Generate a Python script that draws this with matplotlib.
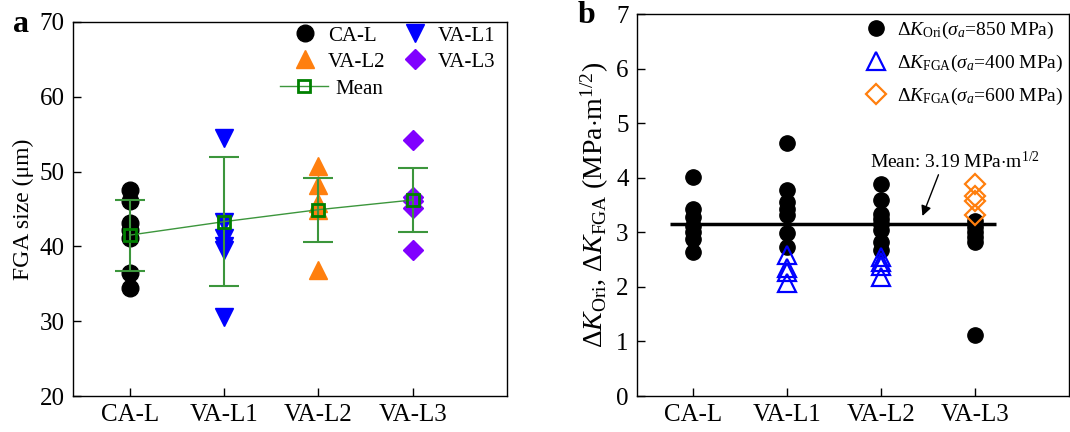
import numpy as np
import matplotlib
matplotlib.use('Agg')
import matplotlib.pyplot as plt

plt.rcParams['font.family'] = ['Liberation Serif', 'DejaVu Serif']
plt.rcParams['mathtext.fontset'] = 'custom'
plt.rcParams['mathtext.rm'] = 'Liberation Serif'
plt.rcParams['mathtext.it'] = 'Liberation Serif:italic'
plt.rcParams['mathtext.bf'] = 'Liberation Serif:bold'

cats = ['CA-L', 'VA-L1', 'VA-L2', 'VA-L3']

# panel a: FGA size (um)
fga_cal = [47.5, 46.0, 43.1, 42.2, 41.1, 36.4, 34.4]
fga_val1 = [54.5, 43.3, 41.1, 40.0, 39.5, 30.6]
fga_val2 = [50.7, 48.2, 45.8, 44.9, 36.8]
fga_val3 = [54.2, 46.6, 46.0, 45.1, 39.5]
fga_mean = [41.5, 43.3, 44.9, 46.2]
fga_sd = [4.75, 8.65, 4.3, 4.3]

# panel b: delta K (MPa m^1/2)
kori_cal = [4.02, 3.42, 3.28, 3.12, 3.00, 2.88, 2.64]
kori_val1 = [4.63, 3.77, 3.56, 3.42, 3.32, 2.99, 2.74]
kori_val2 = [3.89, 3.59, 3.33, 3.25, 3.15, 3.05, 2.83, 2.68]
kori_val3 = [3.20, 3.10, 3.00, 2.92, 2.83, 1.12]
kfga400_val1 = [2.58, 2.35, 2.28, 2.07]
kfga400_val2 = [2.55, 2.45, 2.38, 2.19]
kfga600_val3 = [3.88, 3.66, 3.58, 3.32]
k_mean_line = 3.16

pos = np.arange(1, 5)
green = '#008000'
green2 = '#3c963c'
orange = '#ff7f0e'

fig = plt.figure(figsize=(10.7, 4.32), dpi=100)
ax1 = fig.add_axes([0.0682, 0.0833, 0.4056, 0.866])
ax2 = fig.add_axes([0.5953, 0.0833, 0.4037, 0.884])

# ---- a ----
ax1.plot([pos[0]]*len(fga_cal), fga_cal, 'o', color='black', ms=12, label='CA-L', zorder=2)
ax1.plot([pos[1]]*len(fga_val1), fga_val1, 'v', color='blue', ms=13, label='VA-L1', zorder=2)
ax1.plot([pos[2]]*len(fga_val2), fga_val2, '^', color=orange, ms=13, label='VA-L2', zorder=2)
ax1.plot([pos[3]]*len(fga_val3), fga_val3, 'D', color='#8000ff', ms=10, label='VA-L3', zorder=2)
ax1.errorbar(pos, fga_mean, yerr=fga_sd, fmt='none', ecolor=green2, elinewidth=1.5,
             capsize=11, capthick=1.5, zorder=3)
mean_ln, = ax1.plot(pos, fga_mean, '-s', color=green2, lw=1, ms=9, mfc='none', mec=green,
                    mew=2, label='Mean', zorder=4)
ax1.set_xlim(0.4, 5.0)
ax1.set_ylim(20, 70)
ax1.set_xticks(pos)
ax1.set_xticklabels(cats)
ax1.set_yticks([20, 30, 40, 50, 60, 70])
ax1.set_ylabel('FGA size (μm)', fontsize=17, labelpad=4)
ax1.tick_params(direction='in', length=6, width=1, labelsize=18, pad=6)
h, l = ax1.get_legend_handles_labels()
order = [0, 2, 1, 3]
leg1 = ax1.legend([h[i] for i in order], [l[i] for i in order], ncol=2, frameon=False,
                  loc='center left', bbox_to_anchor=(0.511, 0.928), fontsize=15,
                  handletextpad=0.6, columnspacing=0.9, labelspacing=0.3,
                  borderaxespad=0, borderpad=0, handlelength=1.0)
ax1.add_artist(leg1)
ax1.legend([mean_ln], ['Mean'], frameon=False, loc='center left',
           bbox_to_anchor=(0.477, 0.821), fontsize=15, handletextpad=0.35,
           borderaxespad=0, borderpad=0, handlelength=2.3)

# ---- b ----
ax2.hlines(k_mean_line, 0.75, 4.22, color='black', lw=2.5, zorder=1)
ax2.plot([pos[0]]*len(kori_cal), kori_cal, 'o', color='black', ms=11, zorder=2,
         label=r'$\Delta K_{\rm Ori}$($\sigma_a$=850 MPa)')
ax2.plot([pos[1]]*len(kori_val1), kori_val1, 'o', color='black', ms=11, zorder=2)
ax2.plot([pos[2]]*len(kori_val2), kori_val2, 'o', color='black', ms=11, zorder=2)
ax2.plot([pos[3]]*len(kori_val3), kori_val3, 'o', color='black', ms=11, zorder=2)
ax2.plot([pos[1]]*len(kfga400_val1), kfga400_val1, '^', color='blue', mfc='none', mew=1.6,
         ms=13, zorder=3, label=r'$\Delta K_{\rm FGA}$($\sigma_a$=400 MPa)')
ax2.plot([pos[2]]*len(kfga400_val2), kfga400_val2, '^', color='blue', mfc='none', mew=1.6,
         ms=13, zorder=3)
ax2.plot([pos[3]]*len(kfga600_val3), kfga600_val3, 'D', color=orange, mfc='none', mew=1.6,
         ms=10, zorder=3, label=r'$\Delta K_{\rm FGA}$($\sigma_a$=600 MPa)')
ax2.annotate('Mean: 3.19 MPa$\\cdot$m$^{1/2}$', xy=(3.44, 3.30), xytext=(2.88, 4.18),
             fontsize=14, ha='left', va='baseline',
             arrowprops=dict(arrowstyle='-|>', color='black', lw=1, mutation_scale=15,
                             shrinkA=0, shrinkB=0, relpos=(0.41, 0.0)))
ax2.set_xlim(0.4, 5.0)
ax2.set_ylim(0, 7)
ax2.set_xticks(pos)
ax2.set_xticklabels(cats)
ax2.set_yticks(range(8))
ax2.set_ylabel(r'$\Delta K_{\rm Ori}$, $\Delta K_{\rm FGA}$ (MPa$\cdot$m$^{1/2}$)', fontsize=20,
               labelpad=4)
ax2.tick_params(direction='in', length=6, width=1, labelsize=18, pad=6)
ax2.legend(loc='upper right', bbox_to_anchor=(1.0, 1.0), frameon=False, fontsize=14,
           handletextpad=0.45, labelspacing=0.6, borderaxespad=0, borderpad=0.3,
           handlelength=1.2)

for ax in (ax1, ax2):
    for s in ax.spines.values():
        s.set_linewidth(1)

fig.text(0.012, 0.926, 'a', fontsize=23, fontweight='bold')
fig.text(0.540, 0.947, 'b', fontsize=23, fontweight='bold')

plt.savefig('out.png', dpi=100)
